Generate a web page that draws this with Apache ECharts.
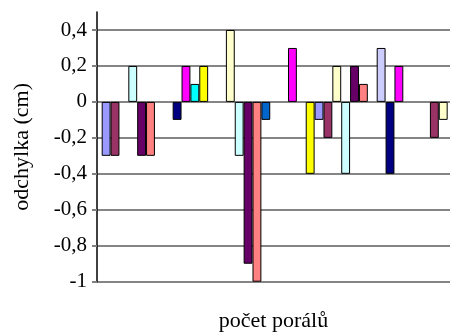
<!DOCTYPE html>
<html>
<head>
<meta charset="utf-8">
<script src="https://cdn.jsdelivr.net/npm/echarts@6/dist/echarts.min.js"></script>
<style>
html,body{margin:0;padding:0;background:#fff;}
#chart{width:450px;height:333px;}
</style>
</head>
<body>
<div id="chart"></div>
<script>
// ---- data ----
var categories = ['1', '2', '3', '4'];
var seriesColors = ['#9999FF', '#993366', '#FFFFCC', '#CCFFFF', '#660066', '#FF8080',
                    '#0066CC', '#CCCCFF', '#000080', '#FF00FF', '#00FFFF', '#FFFF00'];
var s1  = [-0.3, null, -0.1, null];
var s2  = [-0.3, null, -0.2, -0.2];
var s3  = [null, 0.4, 0.2, -0.1];
var s4  = [0.2, -0.3, -0.4, null];
var s5  = [-0.3, -0.9, 0.2, null];
var s6  = [-0.3, -1.0, 0.1, null];
var s7  = [null, -0.1, null, null];
var s8  = [null, null, 0.3, null];
var s9  = [-0.1, null, -0.4, null];
var s10 = [0.2, 0.3, 0.2, null];
var s11 = [0.1, null, null, null];
var s12 = [0.2, -0.4, null, null];
var seriesValues = [s1, s2, s3, s4, s5, s6, s7, s8, s9, s10, s11, s12];
var yTicks = [-1, -0.8, -0.6, -0.4, -0.2, 0, 0.2, 0.4];
var yTitle = 'odchylka (cm)';
var xTitle = 'počet porálů';

var FONT = '"Liberation Serif", "Times New Roman", serif';
var chart = echarts.init(document.getElementById('chart'), null, {renderer: 'canvas'});

var series = seriesValues.map(function (vals, i) {
  return {
    type: 'bar',
    xAxisIndex: 1,
    yAxisIndex: 1,
    data: vals,
    barGap: '0%',
    barCategoryGap: '0%',
    itemStyle: {color: seriesColors[i], borderColor: '#000', borderWidth: 1},
    emphasis: {disabled: true},
    silent: true
  };
});

chart.setOption({
  animation: false,
  backgroundColor: '#fff',
  grid: [
    {left: 97, right: 0, top: 30, bottom: 51.3, outerBoundsMode: 'none', containLabel: false},
    {left: 101.7, width: 425.8, top: 12, bottom: 51.3, outerBoundsMode: 'none', containLabel: false}
  ],
  xAxis: [
    {
      gridIndex: 0, type: 'value', min: 0, max: 1,
      axisLine: {show: false}, axisTick: {show: false}, axisLabel: {show: false}, splitLine: {show: false},
      name: xTitle, nameLocation: 'middle', nameGap: 29,
      nameTextStyle: {fontFamily: FONT, fontSize: 22, color: '#000'}
    },
    {
      gridIndex: 1, type: 'category', data: categories, show: false
    }
  ],
  yAxis: [
    {
      gridIndex: 0, type: 'value', min: yTicks[0], max: yTicks[yTicks.length - 1], interval: 0.2,
      axisLine: {show: false},
      axisTick: {show: true, length: 5, lineStyle: {color: '#808080', width: 2}},
      axisLabel: {
        margin: 10, fontFamily: FONT, fontSize: 21, color: '#000',
        formatter: function (v) { return String(Math.round(v * 10) / 10).replace('.', ','); }
      },
      splitLine: {show: true, lineStyle: {color: '#858585', width: 2}}
    },
    {
      gridIndex: 1, type: 'value', min: -1, max: 0.5, offset: 4.7,
      axisLine: {show: true, lineStyle: {color: '#000', width: 1.5}},
      axisTick: {show: false}, axisLabel: {show: false}, splitLine: {show: false},
      name: yTitle, nameLocation: 'middle', nameRotate: 90, nameGap: 64,
      nameTextStyle: {fontFamily: FONT, fontSize: 22, color: '#000'}
    }
  ],
  series: series
});
</script>
</body>
</html>
